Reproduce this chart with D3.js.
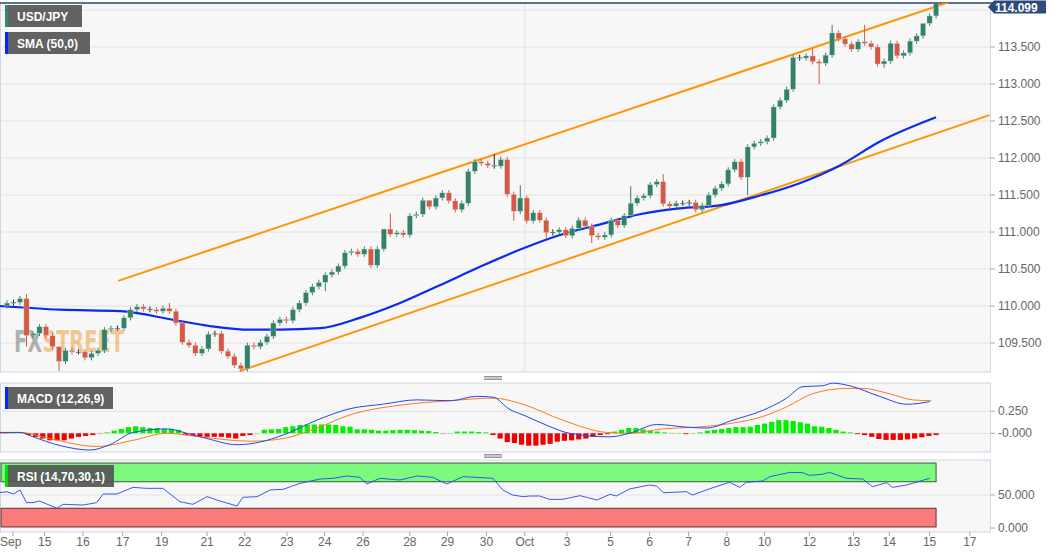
<!DOCTYPE html>
<html>
<head>
<meta charset="utf-8">
<script src="https://cdn.jsdelivr.net/npm/d3@7"></script>
<style>
  body { margin: 0; background: #fff; }
  svg { display: block; font-family: "Liberation Sans", Arial, sans-serif; }
</style>
</head>
<body>
<div id="chart"></div>
<script>
// closes of the 4h candles
var closes = [
  110.04,110.05,110.10,109.60,109.63,109.72,109.60,109.45,109.25,109.40,109.38,109.38,109.30,109.36,109.40,109.68,109.70,109.70,109.84,109.95,
  109.99,109.96,109.95,109.93,109.97,109.93,109.77,109.51,109.47,109.36,109.42,109.62,109.63,109.39,109.32,109.20,109.15,109.47,109.45,109.51,
  109.59,109.77,109.82,109.80,109.95,110.04,110.18,110.26,110.32,110.42,
  110.46,110.54,110.72,110.74,110.70,110.77,110.55,110.77,111.04,110.97,110.99,110.96,111.22,111.24,111.43,111.34,111.46,111.53,111.42,111.30,
  111.39,111.82,111.95,111.93,111.90,111.89,111.98,111.51,111.28,111.46,111.15,111.26,111.16,110.99,111.00,111.03,110.95,111.05,111.16,111.08,
  110.95,110.93,110.96,111.16,111.09,111.22,111.39,111.46,111.49,
  111.64,111.68,111.38,111.35,111.39,111.39,111.40,111.30,111.36,111.50,111.59,111.65,111.84,111.95,111.74,112.15,112.20,112.22,112.27,112.69,
  112.78,112.93,113.36,113.35,113.38,113.30,113.28,113.39,113.69,113.61,113.54,113.47,113.57,113.55,113.50,113.27,113.31,113.55,113.38,113.42,
  113.58,113.65,113.82,113.92,114.099
];
var firstOpen = 110.00;
var wick = 0.035;
// long wicks that stand out
var highs = {3: 110.16, 8: 109.45, 25: 110.04, 58: 110.98, 59: 111.25, 65: 111.42, 75: 112.05, 76: 112.02, 79: 111.63, 96: 111.62, 101: 111.78, 124: 113.48, 127: 113.8, 132: 113.8, 141: 113.72};
var lows = {3: 109.45, 8: 109.12, 36: 109.12, 49: 110.2, 78: 111.15, 83: 110.92, 90: 110.85, 114: 111.5, 125: 113.0, 135: 113.22};

var smaPts = [[-1.1,110.0],[8.2,109.95],[17.4,109.93],[25.8,109.81],[31.2,109.73],[37.4,109.68],[42,109.68],[48.2,109.70],[54.3,109.84],
  [60.5,110.04],[66.6,110.28],[72.8,110.53],[78.9,110.76],[85.1,110.96],[91.2,111.1],[97.4,111.24],[103.5,111.32],[109.7,111.36],
  [115.8,111.49],[122,111.66],[128.2,111.9],[134.3,112.22],[143,112.55]];
var upperChannel = [[17.1,110.34],[145.1,114.11]];
var lowerChannel = [[35.8,109.12],[151.2,112.58]];

var macdPts = [[-1.1,0.01],[2,0.01],[4,-0.04],[8.2,-0.14],[12.8,-0.19],[15.8,-0.13],[19.4,0.01],[24.6,0.05],[27.7,0.0],[30.8,-0.06],
  [35.4,-0.13],[38.9,-0.1],[42.5,-0.02],[47.7,0.15],[52.8,0.28],[57.8,0.33],[63.1,0.38],[68.2,0.37],[72.3,0.42],[74.8,0.41],[77.4,0.27],
  [79.4,0.21],[83.1,0.09],[86.6,0.0],[92.8,-0.04],[95.8,0.0],[100,0.10],[104.6,0.07],[107.7,0.06],[111.7,0.15],[116.3,0.26],[120,0.40],
  [122.5,0.53],[125.5,0.54],[127.1,0.57],[129.7,0.54],[134.3,0.42],[138.5,0.33],[142,0.36]];
var signalPts = [[-1.1,0],[2,0.01],[6.6,-0.06],[13.8,-0.15],[19.4,-0.08],[24.6,0],[29.7,-0.04],[37.4,-0.09],[42.5,-0.06],[47.7,0.06],
  [52.8,0.21],[60.5,0.32],[68.2,0.37],[74.8,0.40],[79.4,0.33],[85.5,0.15],[92.3,0.01],[95.8,0.0],[100.9,0.05],[106.2,0.07],[111.2,0.11],
  [116.3,0.19],[120,0.30],[124,0.45],[129.2,0.51],[131.7,0.51],[135.8,0.45],[139.4,0.38],[142.3,0.37]];
var histogram = [0.01,0.01,0.005,-0.02,-0.04,-0.06,-0.08,-0.08,-0.08,-0.06,-0.04,-0.03,-0.02,-0.005,
  0.01,0.03,0.05,0.07,0.08,0.07,0.06,0.06,0.05,0.05,0.04,-0.02,-0.03,-0.04,-0.04,-0.04,-0.04,-0.05,-0.06,-0.03,-0.02,0.0,
  0.04,0.045,0.05,0.07,0.08,0.095,0.1,0.1,0.1,0.1,0.095,0.08,0.075,0.045,0.045,0.04,0.03,0.03,0.035,0.04,0.04,0.035,0.03,0.025,0.015,
  -0.005,0.0,0.02,0.02,0.02,0.015,0.01,-0.02,-0.06,-0.1,
  -0.11,-0.13,-0.14,-0.14,-0.13,-0.12,-0.095,-0.085,-0.08,-0.07,-0.06,-0.04,-0.02,-0.01,0.02,0.04,0.06,0.06,0.045,0.03,0.02,
  0.01,0.005,0.0,-0.01,0.0,0.01,0.03,0.04,0.05,0.06,0.07,0.07,0.075,0.095,0.11,0.13,0.15,0.15,0.14,0.125,0.11,0.08,0.075,0.06,0.04,0.02,
  0.01,-0.01,-0.02,-0.04,-0.065,-0.075,-0.075,-0.075,-0.07,-0.06,-0.045,-0.03,-0.02];

var rsiPts = [[-1.1,53.5],[0,55],[1,51.5],[2,57.6],[3,38.4],[4,38.4],[5,40.9],[7.7,29.8],[8.6,35.9],[11.7,34.8],[13.8,38.4],[14.8,51.5],
  [16.9,51.5],[19.4,61.6],[21.5,60.1],[24,60.1],[26.6,39.9],[28.6,35.9],[30.8,47.5],[32.8,40.9],[35.4,33.3],[36.3,46.5],[38.5,47.5],
  [40.5,57.6],[42.5,58.6],[45.1,67.7],[48.2,74.2],[50.2,75.3],[52.3,78.8],[54.3,76.8],[55.4,66.7],[57.4,75.3],[60.5,72.7],[63.1,78.8],
  [65.5,76.8],[67.7,66.7],[70.2,77.8],[74.8,75.3],[76.3,57.6],[77.8,50.0],[79.4,47.5],[80.5,48.5],[82,48.5],[83.5,43.4],[85.5,43.4],
  [88.2,49.0],[90.8,42.4],[92.8,51.0],[93.8,48.5],[95.8,59.1],[98.9,65.2],[100,63.6],[101,53.5],[104.6,55.0],[105.5,50.0],[108.2,59.6],
  [111.2,69.2],[112.8,61.6],[113.8,69.2],[116.3,71.2],[117.4,77.8],[120.5,84.3],[122.5,83.8],[123.5,79.8],[125.5,81.3],[126.6,84.3],
  [129.2,75.3],[131.7,74.2],[133.2,62.6],[135.4,68.7],[136.3,61.6],[138.5,65.2],[142,75.3]];

var tickLabels = ["Sep","15","16","17","19","21","22","23","24","26","28","29","30","Oct","3","5","6","7","8","10","12","13","14","15","17"];
var tickIdx = [0.9,5.8,11.7,17.8,23.8,30.8,36.6,43.1,48.9,54.8,62,67.8,73.8,79.7,86.2,92.9,98.9,104.9,110.8,116.6,123.5,130.3,135.8,142,148.2];
var priceTicks = [109.5,110,110.5,111,111.5,112,112.5,113,113.5,114];

var W = 1060, H = 555, plotR = 990;
var svg = d3.select("#chart").append("svg").attr("width", W).attr("height", H);

var x = d3.scaleLinear().domain([-1.08, 151.3]).range([0, plotR]);
var y = d3.scaleLinear().domain([109.5, 114]).range([343, 10]);
var yM = d3.scaleLinear().domain([0, 0.25]).range([433.3, 411.3]);
var yR = d3.scaleLinear().domain([0, 100]).range([528, 462]);

var candles = closes.map(function (c, i) {
  var o = i === 0 ? firstOpen : closes[i - 1];
  return { i: i, o: o, c: c,
    h: highs[i] !== undefined ? highs[i] : Math.max(o, c) + wick,
    l: lows[i] !== undefined ? lows[i] : Math.min(o, c) - wick };
});

// panels
function panel(y0, y1) {
  svg.append("rect").attr("x", 0.5).attr("y", y0).attr("width", plotR).attr("height", y1 - y0)
    .attr("fill", "#f7f7f7").attr("stroke", "#d3d6e4");
}
panel(3, 372); panel(383, 452); panel(460, 532);
svg.append("line").attr("x1", 0).attr("x2", 1042).attr("y1", 3).attr("y2", 3).attr("stroke", "#2d4a78").attr("stroke-width", 1.5);

// grid
var grid = svg.append("g").attr("stroke", "#e3e3e3");
priceTicks.forEach(function (p) {
  grid.append("line").attr("x1", 1).attr("x2", plotR).attr("y1", y(p)).attr("y2", y(p));
});
grid.append("line").attr("x1", x(79.7)).attr("x2", x(79.7)).attr("y1", 4).attr("y2", 371);
[0, 0.25].forEach(function (v) { grid.append("line").attr("x1", 1).attr("x2", plotR).attr("y1", yM(v)).attr("y2", yM(v)); });
grid.append("line").attr("x1", 1).attr("x2", plotR).attr("y1", yR(50)).attr("y2", yR(50));

// watermark
var wm = svg.append("text").attr("x", 14).attr("y", 352).attr("font-size", 31).attr("font-weight", "bold")
  .attr("font-family", "DejaVu Sans Condensed, sans-serif").attr("opacity", 0.55)
  .attr("textLength", 110).attr("lengthAdjust", "spacingAndGlyphs");
wm.append("tspan").attr("fill", "#777").text("FX");
wm.append("tspan").attr("fill", "#f0a040").text("STREET");

// channel lines
var line = d3.line().x(function (d) { return x(d[0]); });
svg.append("defs").append("clipPath").attr("id", "mainClip").append("rect")
  .attr("x", 0).attr("y", 3).attr("width", plotR).attr("height", 369);
var main = svg.append("g").attr("clip-path", "url(#mainClip)");
[upperChannel, lowerChannel].forEach(function (ch) {
  main.append("path").datum(ch).attr("d", line.y(function (d) { return y(d[1]); }))
    .attr("fill", "none").attr("stroke", "#ff9500").attr("stroke-width", 2);
});
main.append("path").datum(smaPts).attr("d", d3.line().curve(d3.curveMonotoneX).x(function (d) { return x(d[0]); }).y(function (d) { return y(d[1]); }))
  .attr("fill", "none").attr("stroke", "#0a2bf0").attr("stroke-width", 2.2);

// candles
function col(d) {
  if (Math.abs(d.c - d.o) < 0.012) return "#222";
  return d.c >= d.o ? "#35806a" : "#d65745";
}
var cg = main.selectAll("g.candle").data(candles).enter().append("g");
cg.append("line").attr("x1", function (d) { return x(d.i); }).attr("x2", function (d) { return x(d.i); })
  .attr("y1", function (d) { return y(d.h); }).attr("y2", function (d) { return y(d.l); })
  .attr("stroke", col).attr("stroke-width", 1);
cg.append("rect").attr("x", function (d) { return x(d.i) - 2.6; }).attr("width", 5.2)
  .attr("y", function (d) { return y(Math.max(d.o, d.c)); })
  .attr("height", function (d) { return Math.max(1, Math.abs(y(d.o) - y(d.c))); })
  .attr("fill", col).attr("stroke", "#cfe3d8").attr("stroke-width", 0.4);

// MACD
var hStep = (closes.length - 1) / (histogram.length - 1);
svg.selectAll("rect.hist").data(histogram).enter().append("rect")
  .attr("x", function (d, i) { return x(i * hStep) - 2.6; }).attr("width", 5.2)
  .attr("y", function (d) { return d >= 0 ? yM(d) : yM(0); })
  .attr("height", function (d) { return Math.max(0.8, Math.abs(yM(d) - yM(0))); })
  .attr("fill", function (d) { return d >= 0 ? "#00f000" : "#f00000"; })
  .attr("opacity", function (d) { return Math.abs(d) < 0.008 ? 0.4 : 1; });
svg.append("path").datum(signalPts).attr("d", d3.line().curve(d3.curveMonotoneX).x(function (d) { return x(d[0]); }).y(function (d) { return yM(d[1]); }))
  .attr("fill", "none").attr("stroke", "#ff7a1a").attr("stroke-width", 1);
svg.append("path").datum(macdPts).attr("d", d3.line().curve(d3.curveMonotoneX).x(function (d) { return x(d[0]); }).y(function (d) { return yM(d[1]); }))
  .attr("fill", "none").attr("stroke", "#2446f0").attr("stroke-width", 1);

// RSI
var rsiEnd = x(closes.length - 1);
svg.append("rect").attr("x", 1).attr("y", yR(100) + 1).attr("width", rsiEnd - 1).attr("height", yR(70) - yR(100) - 1)
  .attr("fill", "#7df97d").attr("stroke", "#1a3a1a").attr("stroke-width", 0.8);
svg.append("rect").attr("x", 1).attr("y", yR(30)).attr("width", rsiEnd - 1).attr("height", yR(0) - yR(30) - 1)
  .attr("fill", "#f97b7b").attr("stroke", "#3a1a1a").attr("stroke-width", 0.8);
svg.append("path").datum(rsiPts).attr("d", d3.line().x(function (d) { return x(d[0]); }).y(function (d) { return yR(d[1]); }))
  .attr("fill", "none").attr("stroke", "#2446f0").attr("stroke-width", 0.9);

// right axes
var axisCol = "#666";
var rAxis = svg.append("g").attr("font-size", 12).attr("fill", axisCol);
priceTicks.filter(function (p) { return p < 114; }).forEach(function (p) {
  rAxis.append("line").attr("x1", plotR).attr("x2", plotR + 5).attr("y1", y(p)).attr("y2", y(p)).attr("stroke", "#aaa");
  rAxis.append("text").attr("x", plotR + 8).attr("y", y(p) + 4).text(d3.format(".3f")(p));
});
[[0.25, "0.250", yM], [0, "-0.000", yM], [50, "50.000", yR], [0, "0.000", yR]].forEach(function (t) {
  rAxis.append("line").attr("x1", plotR).attr("x2", plotR + 5).attr("y1", t[2](t[0])).attr("y2", t[2](t[0])).attr("stroke", "#aaa");
  rAxis.append("text").attr("x", plotR + 8).attr("y", t[2](t[0]) + 4).text(t[1]);
});
// last price tag (kept inside the frame)
var last = closes[closes.length - 1];
var tagY = Math.max(y(last), 7);
svg.append("path").attr("d", "M" + (plotR - 2) + "," + tagY + "l6,-6.5h52v13h-52z").attr("fill", "#2d4a78");
svg.append("text").attr("x", plotR + 5).attr("y", tagY + 4.5).attr("fill", "#fff").attr("font-size", 12)
  .attr("font-weight", "bold").text(d3.format(".3f")(last));

// bottom axis
var bx = svg.append("g").attr("font-size", 12).attr("fill", axisCol);
tickLabels.forEach(function (t, i) {
  bx.append("line").attr("x1", x(tickIdx[i])).attr("x2", x(tickIdx[i])).attr("y1", 532).attr("y2", 536).attr("stroke", "#aaa");
  bx.append("text").attr("x", i === 0 ? 0 : x(tickIdx[i])).attr("y", 546)
    .attr("text-anchor", i === 0 ? "start" : "middle").text(t);
});

// pane separators
[378, 456].forEach(function (yy) {
  [-1.5, 0, 1.5].forEach(function (o) {
    svg.append("line").attr("x1", 484).attr("x2", 502).attr("y1", yy + o).attr("y2", yy + o).attr("stroke", "#777").attr("stroke-width", 0.8);
  });
});

// legend boxes
function tag(x0, y0, w, label, c) {
  svg.append("rect").attr("x", x0).attr("y", y0).attr("width", w).attr("height", 22).attr("fill", "#555").attr("opacity", 0.92);
  svg.append("rect").attr("x", x0).attr("y", y0).attr("width", 3).attr("height", 22).attr("fill", c);
  svg.append("text").attr("x", x0 + 12).attr("y", y0 + 15.5).attr("fill", "#fff").attr("font-size", 12)
    .attr("font-weight", "bold").text(label);
}
tag(5, 5, 77, "USD/JPY", "#2e8b6f");
tag(5, 32, 85, "SMA (50,0)", "#0026ff");
tag(5, 387, 108, "MACD (12,26,9)", "#0026ff");
tag(5, 465, 109, "RSI (14,70,30,1)", "#00e000");
</script>
</body>
</html>
